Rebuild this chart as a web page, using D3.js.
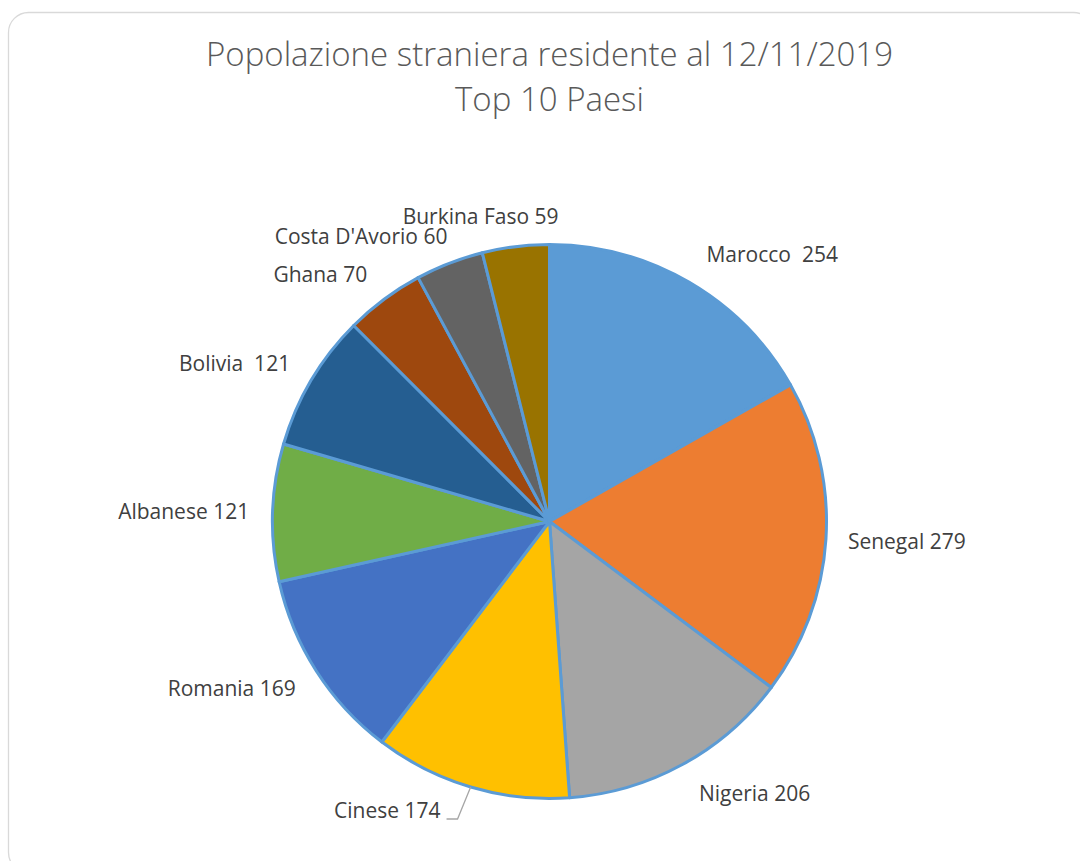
<!DOCTYPE html>
<html>
<head>
<meta charset="utf-8">
<script src="https://cdn.jsdelivr.net/npm/d3@7"></script>
<style>
  html, body { margin: 0; padding: 0; background: #fff; }
  svg { display: block; }
  text { font-family: "Open Sans", "Noto Sans", sans-serif; }
</style>
</head>
<body>
<svg id="chart" width="1080" height="861"></svg>
<script>
// ---- data ----
const countries = ["Marocco", "Senegal", "Nigeria", "Cinese", "Romania", "Albanese", "Bolivia", "Ghana", "Costa D'Avorio", "Burkina Faso"];
const residents = [254, 279, 206, 174, 169, 121, 121, 70, 60, 59];
const labelSeparators = ["  ", " ", " ", " ", " ", " ", "  ", " ", " ", " "];
const sliceColors = ["#5B9BD5", "#ED7D31", "#A5A5A5", "#FFC000", "#4472C4", "#70AD47", "#255E91", "#9E480E", "#636363", "#997300"];
const titleLines = ["Popolazione straniera residente al 12/11/2019", "Top 10 Paesi"];

// ---- layout ----
const W = 1080, H = 861;
const cx = 549.5, cy = 521.5, R = 277;
const labelR = 302;
// label nudges (dx, dy) applied after radial placement; leader flag for pushed labels
const labelNudge = [[5, -6], [-3, 1.5], [4.5, 7], [-6, 8], [0.5, 4.5], [1.5, 0], [0.5, -4], [-2, -5], [7, -3], [46, -5]];
const leader = [false, false, false, true, false, false, false, false, false, false];

const svg = d3.select("#chart");

// frame
svg.append("rect")
  .attr("x", 8.5).attr("y", 12.5)
  .attr("width", 1085).attr("height", 860)
  .attr("rx", 20).attr("ry", 20)
  .attr("fill", "#fff")
  .attr("stroke", "#D9D9D9").attr("stroke-width", 1.3);

// title
const title = svg.append("text")
  .attr("text-anchor", "middle")
  .attr("fill", "#595959")
  .attr("font-weight", 300)
  .attr("font-size", 33);
titleLines.forEach((t, i) => {
  title.append("tspan").attr("x", cx).attr("y", 66 + i * 45).text(t);
});

const data = countries.map((c, i) => ({ name: c, value: residents[i], sep: labelSeparators[i], color: sliceColors[i], i }));

const pie = d3.pie().value(d => d.value).sort(null).startAngle(0).endAngle(2 * Math.PI);
const arcs = pie(data);
const arc = d3.arc().innerRadius(0).outerRadius(R);

const g = svg.append("g").attr("transform", `translate(${cx},${cy})`);

g.selectAll("path.slice")
  .data(arcs)
  .join("path")
  .attr("class", "slice")
  .attr("d", arc)
  .attr("fill", d => d.data.color)
  .attr("stroke", "#5B9BD5")
  .attr("stroke-width", 3)
  .attr("stroke-linejoin", "round");

// labels
arcs.forEach((a, i) => {
  const mid = (a.startAngle + a.endAngle) / 2;
  const sx = Math.sin(mid), sy = -Math.cos(mid);
  let lx = labelR * sx + labelNudge[i][0];
  let ly = labelR * sy + labelNudge[i][1];
  const right = sx >= 0;
  if (leader[i]) {
    const ex = R * sx, ey = R * sy;
    g.append("path")
      .attr("d", `M${ex},${ey}L${lx},${ly}L${lx - 11},${ly}`)
      .attr("fill", "none")
      .attr("stroke", "#A6A6A6")
      .attr("stroke-width", 1.3);
    lx = lx - 17;
    ly = ly - 8;
  }
  g.append("text")
    .attr("x", lx)
    .attr("y", ly)
    .attr("dy", "0.35em")
    .attr("text-anchor", right ? "start" : "end")
    .attr("fill", "#404040")
    .attr("font-size", 21)
    .style("white-space", "pre")
    .text(a.data.name + a.data.sep + a.data.value);
});
</script>
</body>
</html>
